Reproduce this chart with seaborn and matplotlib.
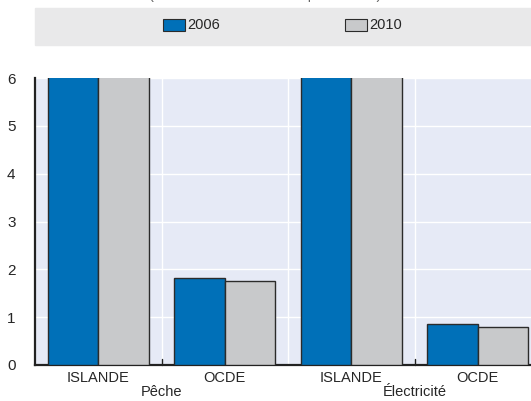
import matplotlib.pyplot as plt
import pandas as pd
import seaborn as sns

# valeurs (ISLANDE dépasse l'échelle, coupée à 6)
pays = ['ISLANDE', 'OCDE', 'ISLANDE', 'OCDE']
secteurs = ['Pêche', 'Pêche', 'Électricité', 'Électricité']
v2006 = [8.5, 1.82, 7.2, 0.86]
v2010 = [7.9, 1.76, 6.9, 0.79]
annees = ['2006', '2010']

keys = [p + ' ' + s for p, s in zip(pays, secteurs)]
df = pd.DataFrame({
    'cat': keys * 2,
    'annee': ['2006'] * 4 + ['2010'] * 4,
    'val': v2006 + v2010,
})

sns.set_style('white')
plt.rcParams['font.family'] = ['Liberation Sans', 'DejaVu Sans']

fig = plt.figure(figsize=(5.31, 4.01), dpi=100)
ax = fig.add_axes([35 / 531, 36 / 401, 506 / 531, 287 / 401])
ax.set_facecolor('#e6eaf6')

sns.barplot(data=df, x='cat', y='val', hue='annee', order=keys, hue_order=annees,
            palette=['#0070b8', '#c8c9cb'], width=0.8, gap=0, saturation=1,
            edgecolor='#2b2b2b', linewidth=1.0, ax=ax, legend=False, zorder=3)

ax.set_xlim(-0.5, 3.5)
ax.set_ylim(0, 6)
ax.set_yticks(range(7))
ax.tick_params(axis='y', direction='in', length=4, width=1, labelsize=11, pad=14)
ax.set_xticks(range(4))
ax.set_xticklabels(pays)
ax.tick_params(axis='x', length=0, labelsize=10.5, pad=4)
ax.set_xlabel('')
ax.set_ylabel('')

# lignes de grille blanches
for y in range(1, 7):
    ax.axhline(y, color='white', lw=1, zorder=1)
for x in [0.5, 1.5, 2.5]:
    ax.axvline(x, color='white', lw=1, zorder=1)
# petits traits séparateurs en bas
for x in [0.5, 2.5]:
    ax.plot([x, x], [0, 0.12], color='#222222', lw=1, zorder=4, clip_on=False)

for s in ['top', 'right']:
    ax.spines[s].set_visible(False)
for s in ['left', 'bottom']:
    ax.spines[s].set_color('#222222')
    ax.spines[s].set_linewidth(1.6)

ax.text(0.5, -0.068, 'Pêche', transform=ax.get_xaxis_transform(), ha='center',
        va='top', fontsize=10.5)
ax.text(2.5, -0.068, 'Électricité', transform=ax.get_xaxis_transform(), ha='center',
        va='top', fontsize=10.5)

# bandeau de légende
fig.patches.append(plt.Rectangle((35 / 531, 1 - 45 / 401), 496 / 531, 37 / 401,
                                 transform=fig.transFigure, color='#e9e9ea', zorder=0))
for x0, col, lab in [(163, '#0070b8', '2006'), (345, '#c8c9cb', '2010')]:
    fig.patches.append(plt.Rectangle((x0 / 531, 1 - 31 / 401), 22 / 531, 12 / 401,
                                     transform=fig.transFigure, facecolor=col,
                                     edgecolor='#2b2b2b', lw=0.8))
    fig.text((x0 + 24) / 531, 1 - 25 / 401, lab, ha='left', va='center', fontsize=10.5)

# titre coupé en haut (comme sur l'original)
fig.text(265 / 531, 1 + 5 / 401, '(en % de la valeur de la production)', ha='center',
         va='center', fontsize=10.5, color='#666666')

fig.savefig('out.png', dpi=100)
